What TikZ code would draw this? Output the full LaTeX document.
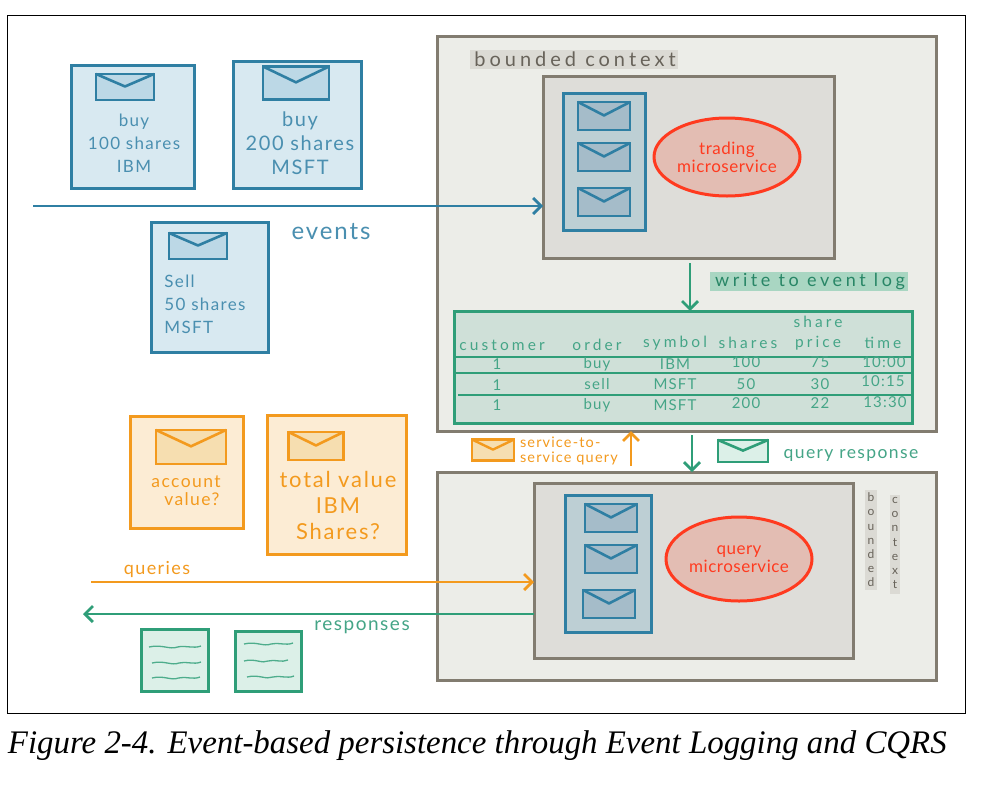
\documentclass[tikz,border=0pt]{standalone}
\usepackage{fontspec}
\setmainfont{Liberation Serif}
\newfontfamily\hand[LetterSpace=8]{Lato}
\newfontfamily\handtight[LetterSpace=3]{Lato}
\newfontfamily\handwide[LetterSpace=20]{Lato}
\usetikzlibrary{arrows.meta,shapes.geometric}
\definecolor{greyline}{HTML}{827C70}
\definecolor{ctxfill}{HTML}{ECEDE8}
\definecolor{innerfill}{HTML}{DEDDD9}
\definecolor{blueline}{HTML}{2F7FA3}
\definecolor{bluetext}{HTML}{4A8FB0}
\definecolor{bluefill}{HTML}{D8E9F1}
\definecolor{blueenv}{HTML}{BCD8E6}
\definecolor{queuefill}{HTML}{BDCFD4}
\definecolor{queueenv}{HTML}{A5BCC9}
\definecolor{orangeline}{HTML}{F39A1E}
\definecolor{orangefill}{HTML}{FCECD4}
\definecolor{orangeenv}{HTML}{F6DEB0}
\definecolor{greenline}{HTML}{2F9E78}
\definecolor{greentext}{HTML}{45A587}
\definecolor{greenfill}{HTML}{DCF0E8}
\definecolor{tablefill}{HTML}{CFE0D8}
\definecolor{redline}{HTML}{FF3A1F}
\definecolor{redfill}{HTML}{E3BDB3}
\definecolor{hlgrey}{HTML}{DBDAD4}
\definecolor{hlgreen}{HTML}{A9D6C2}
\tikzset{
  x=1pt,y=-1pt,
  every node/.style={inner sep=0pt,outer sep=0pt},
  ctxbox/.style={draw=greyline,fill=ctxfill,line width=3pt},
  innerbox/.style={draw=greyline,fill=innerfill,line width=3pt},
  queuebox/.style={draw=blueline,fill=queuefill,line width=3pt},
  bluecard/.style={draw=blueline,fill=bluefill,line width=3pt},
  orangecard/.style={draw=orangeline,fill=orangefill,line width=3pt},
  greencard/.style={draw=greenline,fill=greenfill,line width=3pt},
  logtable/.style={draw=greenline,fill=tablefill,line width=3pt},
  hilite/.style={fill=#1},
  svc/.style={ellipse,draw=redline,fill=redfill,line width=3pt,minimum width=146pt,minimum height=78pt,
     align=center,text=redline,font=\handtight\fontsize{17}{18}\selectfont},
  flow/.style={draw=#1,line width=2.6pt,-{Straight Barb[length=8pt,width=16pt,line width=2.8pt]}},
  bluelbl/.style={text=bluetext,align=center,font=\hand\fontsize{17}{23}\selectfont},
  orangelbl/.style={text=orangeline,align=center,font=\hand\fontsize{16}{24}\selectfont},
  celltxt/.style={text=greentext,font=\hand\fontsize{15}{19}\selectfont,align=center},
  headtxt/.style={text=greentext,font=\handwide\fontsize{15.5}{20}\selectfont,align=center},
  squig/.style={draw=greenline!85,line width=1.3pt},
}
% name, style, x1,y1,x2,y2
\newcommand\bx[6]{\node[#2,anchor=north west,minimum width={(#5-#3)*1pt},minimum height={(#6-#4)*1pt}] (#1) at (#3,#4) {};}
% name, cx,cy,w,h, line colour, fill colour, line width
\newcommand\envl[8]{%
  \node[draw=#6,fill=#7,line width=#8,minimum width=#4pt,minimum height=#5pt] (#1) at (#2,#3) {};
  \draw[#6,line width=#8,line join=round] (#1.north west) -- ([yshift={-0.48*#5*1pt}]#1.north) -- (#1.north east);}
\newcommand\wav[3]{\path[squig,draw] (#1,#2) .. controls ({#1+#3*.25},{#2-3}) and ({#1+#3*.4},{#2+3}) .. ({#1+#3*.55},{#2}) .. controls ({#1+#3*.7},{#2-2}) and ({#1+#3*.85},{#2+2}) .. ({#1+#3},{#2-1});}
\begin{document}
\begin{tikzpicture}
\useasboundingbox (0,0) rectangle (985,793);
\fill[white] (0,0) rectangle (985,793);
\bx{frame}{draw=black,line width=.8pt}{7}{15}{965}{713}

% top bounded context
\bx{ctxA}{ctxbox}{437}{36}{936}{431}
\bx{hlA}{hilite=hlgrey}{470}{50}{678}{69}
\node[text=greyline!80!black,font=\handwide\fontsize{20}{22}\selectfont] (ctxAlbl) at (575,59) {bounded context};
\bx{innerA}{innerbox}{543}{76}{834}{258}
\bx{queueA}{queuebox}{563}{93}{645}{230}
\envl{qa1}{604}{116}{52}{28}{blueline}{queueenv}{2.6pt}
\envl{qa2}{604}{157}{52}{28}{blueline}{queueenv}{2.6pt}
\envl{qa3}{604}{202}{52}{28}{blueline}{queueenv}{2.6pt}
\node[svc] (svcA) at (727,157) {trading\\microservice};

% write to log
\bx{hlB}{hilite=hlgreen}{710}{272}{908}{291}
\node[text=greenline!85!black,font=\handwide\fontsize{18}{20}\selectfont] (logLbl) at (810,282) {write to event log};
\bx{table}{logtable}{454}{311}{912}{423}
\coordinate (r1l) at (454,357); \coordinate (r1r) at (912,357);
\coordinate (r2l) at (454,373); \coordinate (r2r) at (912,373);
\coordinate (r3l) at (458,395); \coordinate (r3r) at (912,395);
\draw[greenline,line width=2.4pt] (r1l) -- (r1r) (r2l) -- (r2r) (r3l) -- (r3r);
\coordinate (wa) at (690,263);
\draw[flow=greenline] (wa) -- (wa |- table.north);

\foreach \nm/\xx/\yy/\tt in {
  h1/502/345/customer, h2/597/345/order, h3/675/343/symbol, h4/748/343/shares,
  h5/818/333/{share\\price}, h6/883/343/time}
  {\node[headtxt] (\nm) at (\xx,\yy) {\tt};}
\foreach \nm/\xx/\yy/\tt in {
  a1/497/364/1, a2/597/364/buy, a3/675/364/IBM, a4/746/362/100, a5/820/362/75, a6/884/362/10:00,
  b1/497/385/1, b2/597/384/sell, b3/675/384/MSFT, b4/746/384/50, b5/820/384/30, b6/883/381/10:15,
  c1/497/405/1, c2/597/405/buy, c3/675/405/MSFT, c4/746/403/200, c5/820/403/22, c6/885/402/13:30}
  {\node[celltxt] (\nm) at (\xx,\yy) {\tt};}

% bottom bounded context
\bx{ctxB}{ctxbox}{437}{472}{936}{680}
\bx{innerB}{innerbox}{534}{483}{853}{658}
\bx{queueB}{queuebox}{565}{495}{651}{632}
\envl{qb1}{611}{518}{52}{28}{blueline}{queueenv}{2.6pt}
\envl{qb2}{611}{559}{52}{28}{blueline}{queueenv}{2.6pt}
\envl{qb3}{609}{604}{52}{28}{blueline}{queueenv}{2.6pt}
\node[svc,minimum height=84pt] (svcB) at (739,559) {query\\microservice};
\bx{hlC}{hilite=hlgrey}{865}{490}{877}{590}
\bx{hlD}{hilite=hlgrey}{890}{495}{900}{594}
\node[text=greyline!80!black,align=center,font=\fontsize{12}{14.2}\selectfont\hand] (ctxBa) at (871,540) {b\\o\\u\\n\\d\\e\\d};
\node[text=greyline!80!black,align=center,font=\fontsize{12}{14.2}\selectfont\hand] (ctxBb) at (895,543) {c\\o\\n\\t\\e\\x\\t};

% event cards
\bx{ev1}{bluecard}{71}{65}{194}{188}
\envl{ev1e}{125}{87}{58}{26}{blueline}{blueenv}{2.6pt}
\node[bluelbl] (ev1t) at (134,143) {buy\\100 shares\\IBM};
\bx{ev2}{bluecard}{233}{61}{361}{188}
\envl{ev2e}{296}{83}{66}{33}{blueline}{blueenv}{2.6pt}
\node[bluelbl,font=\hand\fontsize{20}{24}\selectfont] (ev2t) at (300,143) {buy\\200 shares\\MSFT};
\bx{ev3}{bluecard}{151}{222}{268}{352}
\envl{ev3e}{198}{246}{58}{26}{blueline}{blueenv}{2.6pt}
\node[bluelbl,align=left] (ev3t) at (205,304) {Sell\\50 shares\\MSFT};
\coordinate (evs) at (33,206);
\draw[flow=blueline] (evs) -- (evs -| innerA.west);
\node[text=bluetext,font=\hand\fontsize{24}{26}\selectfont] (evlbl) at (331,232) {events};

% query cards
\bx{qu1}{orangecard}{130}{416}{243}{528}
\envl{qu1e}{191}{447}{70}{34}{orangeline}{orangeenv}{2.6pt}
\node[orangelbl,font=\hand\fontsize{17.5}{18}\selectfont] (qu1t) at (186,491) {account\\\ \ value?};
\bx{qu2}{orangecard}{267}{415}{406}{554}
\envl{qu2e}{316}{446}{55}{28}{orangeline}{orangeenv}{2.6pt}
\node[orangelbl,font=\hand\fontsize{22}{26}\selectfont] (qu2t) at (338,505) {total value\\IBM\\Shares?};
\coordinate (qs) at (91,582);
\draw[flow=orangeline] (qs) -- (qs -| innerB.west);
\node[orangelbl,font=\hand\fontsize{18}{20}\selectfont] (qlbl) at (157,569) {queries};
\coordinate (rs) at (83,614);
\draw[flow=greenline] (rs -| innerB.west) -- (rs);
\node[text=greentext,font=\hand\fontsize{19}{20}\selectfont] (rlbl) at (362,627) {responses};

% response cards
\bx{re1}{greencard}{141}{629}{208}{691}
\wav{149}{647}{52} \wav{152}{663}{49} \wav{152}{678}{48}
\bx{re2}{greencard}{235}{631}{301}{691}
\wav{244}{644}{49} \wav{244}{661}{44} \wav{247}{677}{47}

% between contexts
\envl{sse}{493}{450}{42}{21}{orangeline}{orangeenv}{2.4pt}
\node[text=orangeline,align=left,font=\hand\fontsize{14.5}{15}\selectfont,anchor=west] (sst) at (520,451) {service-to-\\service query};
\coordinate (sa) at (631,466);
\draw[flow=orangeline] (sa) -- (sa |- ctxA.south);
\coordinate (qa) at (692,435);
\draw[flow=greenline] (qa) -- (qa |- ctxB.north);
\envl{qre}{743}{451}{50}{22}{greenline}{greenfill}{2.6pt}
\node[text=greentext,font=\hand\fontsize{17.5}{20}\selectfont] (qrt) at (851,455) {query response};

% caption
\node[anchor=west,font=\itshape\fontsize{32.9}{36}\selectfont] (cap) at (8,746) {Figure 2-4. Event-based persistence through Event Logging and CQRS};
\end{tikzpicture}
\end{document}
